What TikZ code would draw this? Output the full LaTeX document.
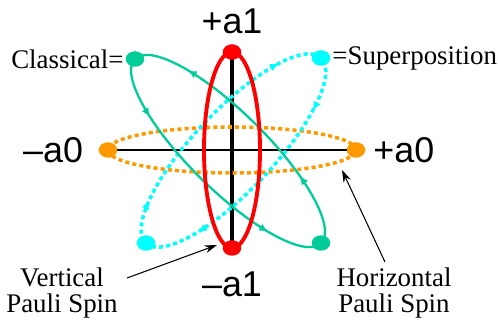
\documentclass[tikz,border=0pt]{standalone}
\usepackage{fontspec}
\setmainfont{Liberation Serif}
\newfontfamily\arialfont{Liberation Sans}
\usetikzlibrary{arrows.meta,positioning,calc,backgrounds,decorations.markings,shapes.geometric}
\definecolor{spinred}{HTML}{FF0000}
\definecolor{spinorange}{HTML}{FF9900}
\definecolor{classgreen}{HTML}{00CC99}
\definecolor{supcyan}{HTML}{00FFFF}

\begin{document}
\begin{tikzpicture}[
  dot/.style={ellipse, minimum width=0.37cm, minimum height=0.31cm, inner sep=0pt},
  axlab/.style={font=\arialfont\fontsize{20.4}{22}\selectfont, inner sep=0pt},
  lab/.style={font=\fontsize{15.3}{15.3}\selectfont, inner sep=0pt, align=center},
  spindots/.style={line width=2pt, dash pattern=on 2.3pt off 1.8pt},
  greenorbit/.style={classgreen, line width=1.3pt, postaction={decorate},
    decoration={markings,
      mark=at position 0.13 with {\arrow{Latex[length=5pt,width=4.5pt]}},
      mark=at position 0.40 with {\arrow{Latex[length=5pt,width=4.5pt]}},
      mark=at position 0.61 with {\arrow{Latex[length=5pt,width=4.5pt]}},
      mark=at position 0.90 with {\arrow{Latex[length=5pt,width=4.5pt]}}}},
  cyanorbit/.style={supcyan, spindots, postaction={decorate},
    decoration={markings,
      mark=at position 0.08 with {\arrowreversed{Latex[length=5pt,width=4.5pt]}},
      mark=at position 0.42 with {\arrowreversed{Latex[length=5pt,width=4.5pt]}},
      mark=at position 0.60 with {\arrowreversed{Latex[length=5pt,width=4.5pt]}},
      mark=at position 0.90 with {\arrowreversed{Latex[length=5pt,width=4.5pt]}}}},
  callout/.style={black, line width=0.6pt, -{Stealth[length=7pt,width=4.5pt]}},
]
\useasboundingbox (-4.64,-3.44) rectangle (5.32,3.00);

% spin end points
\node[dot, fill=spinred] (rt) at (0,1.96) {};
\node[dot, fill=spinred] (rb) at (0,-1.96) {};
\node[dot, fill=spinorange] (oL) at (-2.48,0) {};
\node[dot, fill=spinorange] (oR) at (2.48,0) {};
\node[dot, fill=classgreen] (gtl) at (-1.94,1.82) {};
\node[dot, fill=classgreen] (gbr) at (1.78,-1.86) {};
\node[dot, fill=supcyan] (ctr) at (1.78,1.84) {};
\node[dot, fill=supcyan] (cbl) at (-1.72,-1.86) {};

% axis labels
\node[axlab, above=0.2cm of rt] {+a1};
\node[axlab, below=0.3cm of rb] {–a1};
\node[axlab, left=0.3cm of oL] {–a0};
\node[axlab, right=0.15cm of oR] {+a0};

\node[lab, left=0.03cm of gtl] {Classical=};
\node[lab, right=0.03cm of ctr] {=Superposition};
\node[lab] (vert) at (-3.40,-2.86) {Vertical\\Pauli Spin};
\node[lab] (horz) at (3.24,-2.86) {Horizontal\\Pauli Spin};

\coordinate (vtip) at (-0.30,-1.90);
\coordinate (htip) at (2.20,-0.40);
\draw[callout] ([xshift=0.18cm,yshift=-0.22cm]vert.north east) -- (vtip);
\draw[callout] ([xshift=-0.18cm,yshift=0.1cm]horz.north) -- (htip);

\begin{scope}[on background layer]
  \draw[line width=1.1pt] (oL.center) -- (oR.center);
  \draw[line width=1.8pt] (rt.center) -- (rb.center);
  \draw[spinorange, spindots] (0,0) ellipse (2.48cm and 0.46cm);
  \draw[cyanorbit, shift={(0.03,-0.01)}, rotate=46.6] (0,0) ellipse (2.55cm and 0.80cm);
  \draw[greenorbit, shift={(-0.08,-0.02)}, rotate=-44.7] (0,0) ellipse (2.62cm and 0.77cm);
  \draw[spinred, line width=2.2pt] (0,0) ellipse (0.56cm and 1.96cm);
\end{scope}
\end{tikzpicture}
\end{document}
